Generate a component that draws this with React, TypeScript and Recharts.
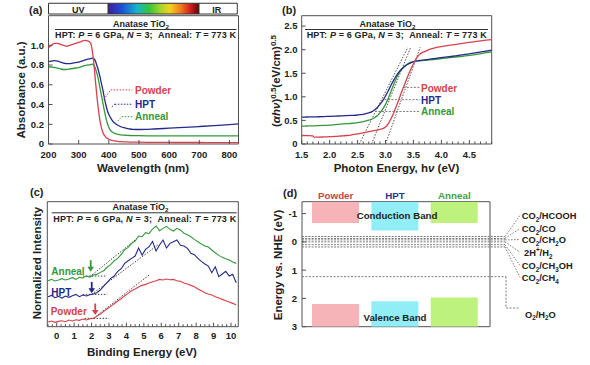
import React from 'react'
import {
  ComposedChart,
  Line,
  Bar,
  Cell,
  XAxis,
  YAxis,
  ReferenceArea,
  ReferenceLine,
  ReferenceDot,
} from 'recharts'

const FONT = '"Liberation Sans", Arial, Helvetica, sans-serif'
const INK = '#222222'
const FRAME = '#505050'
const GUIDE = '#7a7a7a'
const RED = '#d7414c'
const BLUE = '#252a88'
const GREEN = '#35983c'

// (a) absorbance
const wavelengths = [200, 210, 220, 230, 240, 250, 260, 270, 280, 290, 300, 310, 320, 330, 340, 345, 350, 355, 360, 365, 370, 375, 380, 385, 390, 395, 400, 405, 410, 420, 430, 440, 450, 460, 470, 480, 500, 550, 600, 650, 700, 750, 800, 830]
const absPowder = [0.975, 1.0, 1.02, 1.02, 1.01, 1.0, 0.99, 1.0, 1.01, 1.02, 1.03, 1.04, 1.05, 1.045, 1.02, 0.95, 0.83, 0.66, 0.5, 0.36, 0.25, 0.17, 0.12, 0.09, 0.07, 0.057, 0.048, 0.042, 0.037, 0.031, 0.027, 0.024, 0.022, 0.021, 0.02, 0.019, 0.018, 0.017, 0.016, 0.015, 0.015, 0.014, 0.014, 0.014]
const absHpt = [0.835, 0.84, 0.845, 0.84, 0.83, 0.82, 0.815, 0.815, 0.82, 0.825, 0.83, 0.84, 0.85, 0.86, 0.865, 0.87, 0.865, 0.845, 0.8, 0.75, 0.69, 0.62, 0.55, 0.47, 0.4, 0.34, 0.3, 0.27, 0.245, 0.21, 0.19, 0.175, 0.165, 0.158, 0.152, 0.149, 0.147, 0.152, 0.16, 0.168, 0.177, 0.186, 0.196, 0.203]
const absAnneal = [0.78, 0.78, 0.775, 0.77, 0.76, 0.755, 0.755, 0.76, 0.765, 0.77, 0.775, 0.785, 0.795, 0.8, 0.805, 0.81, 0.8, 0.77, 0.72, 0.66, 0.58, 0.5, 0.42, 0.34, 0.27, 0.21, 0.17, 0.14, 0.124, 0.107, 0.098, 0.093, 0.09, 0.088, 0.086, 0.085, 0.084, 0.083, 0.083, 0.082, 0.082, 0.082, 0.082, 0.082]
const wlTicks = [200, 300, 400, 500, 600, 700, 800]
const absTicks = [0, 0.2, 0.4, 0.6, 0.8, 1.0]

// (b) Tauc plot
const photonEnergy = [1.5, 1.6, 1.7, 1.72, 1.8, 1.9, 2.0, 2.1, 2.2, 2.3, 2.4, 2.5, 2.6, 2.7, 2.75, 2.8, 2.85, 2.9, 2.95, 3.0, 3.05, 3.1, 3.15, 3.2, 3.25, 3.3, 3.35, 3.4, 3.45, 3.5, 3.55, 3.6, 3.7, 3.8, 3.9, 4.0, 4.2, 4.4, 4.6, 4.8, 4.9]
const taucPowder = [0.18, 0.178, 0.172, 0.145, 0.145, 0.15, 0.155, 0.16, 0.17, 0.18, 0.195, 0.215, 0.235, 0.26, 0.275, 0.285, 0.295, 0.31, 0.325, 0.36, 0.43, 0.54, 0.67, 0.82, 0.98, 1.14, 1.29, 1.44, 1.58, 1.7, 1.81, 1.89, 1.96, 2.01, 2.045, 2.065, 2.1, 2.14, 2.17, 2.2, 2.215]
const taucHpt = [0.57, 0.572, 0.575, 0.575, 0.578, 0.582, 0.586, 0.59, 0.595, 0.6, 0.607, 0.615, 0.63, 0.66, 0.68, 0.72, 0.77, 0.84, 0.92, 1.02, 1.13, 1.25, 1.36, 1.46, 1.54, 1.6, 1.65, 1.69, 1.72, 1.745, 1.76, 1.77, 1.785, 1.8, 1.815, 1.83, 1.86, 1.895, 1.93, 1.97, 1.99]
const taucAnneal = [0.38, 0.382, 0.385, 0.386, 0.39, 0.395, 0.4, 0.41, 0.42, 0.43, 0.44, 0.455, 0.475, 0.505, 0.525, 0.555, 0.6, 0.66, 0.74, 0.84, 0.97, 1.12, 1.27, 1.41, 1.52, 1.6, 1.66, 1.7, 1.73, 1.745, 1.755, 1.762, 1.772, 1.785, 1.797, 1.81, 1.835, 1.865, 1.895, 1.935, 1.955]
const taucFitFrom = [3.0, 2.53, 2.75] // powder, hpt, anneal (intercept at 0)
const taucFitTo = [3.62, 3.4, 3.45] // x where fit reaches 2.05
const energyTicks = [1.5, 2.0, 2.5, 3.0, 3.5, 4.0, 4.5]
const taucTicks = [0, 0.5, 1.0, 1.5, 2.0, 2.5]

// (c) valence band XPS
const bindingEnergy = [-0.5, -0.3, -0.1, 0.1, 0.3, 0.5, 0.7, 0.9, 1.1, 1.3, 1.5, 1.7, 1.9, 2.1, 2.3, 2.5, 2.7, 2.9, 3.1, 3.3, 3.5, 3.7, 3.9, 4.1, 4.3, 4.5, 4.7, 4.9, 5.1, 5.3, 5.5, 5.7, 5.9, 6.1, 6.3, 6.5, 6.7, 6.9, 7.1, 7.3, 7.5, 7.7, 7.9, 8.1, 8.3, 8.5, 8.7, 8.9, 9.1, 9.3, 9.5, 9.7, 9.9, 10.1, 10.3]
const xpsAnneal = [1.38, 1.42, 1.37, 1.4, 1.44, 1.4, 1.43, 1.47, 1.42, 1.48, 1.46, 1.52, 1.49, 1.55, 1.57, 1.63, 1.68, 1.79, 1.86, 1.98, 2.05, 2.17, 2.31, 2.38, 2.5, 2.57, 2.72, 2.7, 2.82, 2.79, 2.93, 3.02, 2.88, 2.95, 3.01, 2.92, 2.87, 2.95, 2.9, 2.8, 2.76, 2.7, 2.62, 2.55, 2.48, 2.42, 2.39, 2.3, 2.22, 2.14, 2.08, 2.04, 2.0, 1.94, 1.9]
const xpsHpt = [0.9, 0.94, 0.87, 0.91, 0.86, 0.92, 0.88, 0.93, 0.97, 0.9, 0.95, 0.92, 0.96, 0.98, 1.02, 1.1, 1.22, 1.33, 1.45, 1.52, 1.66, 1.74, 1.9, 1.98, 2.05, 2.12, 2.36, 2.15, 2.32, 2.4, 2.56, 2.27, 2.45, 2.6, 2.36, 2.5, 2.55, 2.6, 2.44, 2.42, 2.35, 2.2, 2.16, 2.05, 1.96, 1.88, 1.82, 1.62, 1.8, 1.5, 1.58, 1.66, 1.52, 1.57, 1.32]
const xpsPowder = [0.14, 0.17, 0.13, 0.16, 0.18, 0.15, 0.2, 0.17, 0.21, 0.19, 0.23, 0.2, 0.24, 0.25, 0.31, 0.38, 0.46, 0.54, 0.61, 0.69, 0.77, 0.84, 0.93, 1.0, 1.08, 1.13, 1.19, 1.24, 1.27, 1.31, 1.35, 1.38, 1.42, 1.4, 1.43, 1.41, 1.42, 1.38, 1.36, 1.31, 1.28, 1.24, 1.2, 1.13, 1.08, 1.02, 0.98, 0.95, 0.9, 0.86, 0.82, 0.78, 0.74, 0.7, 0.66]
const vbOnset = [2.21, 2.01, 1.95] // powder, hpt, anneal
const vbOnsetLevel = [0.35, 1.0, 1.65]
const beTicks = [0, 1, 2, 3, 4, 5, 6, 7, 8, 9, 10]

// (d) band structure vs NHE
const samples = ['Powder', 'HPT', 'Anneal']
const cbMinimum = [-0.67, -0.4, -0.67]
const vbMaximum = [2.2, 2.1, 1.97]
const redoxCouples = ['CO2/HCOOH', 'CO2/CO', 'CO2/CH2O', '2H+/H2', 'CO2/CH3OH', 'CO2/CH4']
const redoxPotentials = [-0.19, -0.12, -0.07, 0, 0.1, 0.18]
const oxygenPotential = 1.23
const nheTicks = [-1, 0, 1, 2, 3]
const NHE_TOP = -1.42
const NHE_BOTTOM = 3
const SLOT_MIN = -0.568
const SLOT_MAX = 2.6

const sampleColors = ['#c4453f', '#30358f', '#3e9f3e']
const bandFills = ['#f6b3b8', '#92eef6', '#bdf27c']

const steps = (from: number, to: number, step: number) => {
  const out: number[] = []
  for (let v = from; v <= to + 1e-9; v += step) out.push(Math.round(v * 1000) / 1000)
  return out
}

const absRows = wavelengths.map((w, i) => ({ w, powder: absPowder[i], hpt: absHpt[i], anneal: absAnneal[i] }))
const taucRows = photonEnergy.map((e, i) => ({ e, powder: taucPowder[i], hpt: taucHpt[i], anneal: taucAnneal[i] }))
const xpsRows = bindingEnergy.map((e, i) => ({ e, powder: xpsPowder[i], hpt: xpsHpt[i], anneal: xpsAnneal[i] }))
const bandRows = samples.map((name, i) => ({ slot: i, name, cb: [NHE_TOP, cbMinimum[i]], vb: [vbMaximum[i], NHE_BOTTOM] }))

const tickText = { fontFamily: FONT, fontWeight: 700, fontSize: 9.5, fill: INK }
const near = (list: number[], v: number) => list.some((m) => Math.abs(m - v) < 1e-6)

const bottomTick = (majors: number[], fmt: (v: number) => string, dy: number) => (p: any) => {
  const v = p.payload.value
  const major = near(majors, v)
  return (
    <g>
      <line x1={p.x} x2={p.x} y1={p.y} y2={p.y - (major ? 4 : 2.5)} stroke={FRAME} strokeWidth={1} />
      {major ? (
        <text x={p.x} y={p.y + dy} textAnchor="middle" {...tickText}>
          {fmt(v)}
        </text>
      ) : null}
    </g>
  )
}

const leftTick = (fmt: (v: number) => string, dx: number) => (p: any) => (
  <g>
    <line x1={p.x} x2={p.x + 4} y1={p.y} y2={p.y} stroke={FRAME} strokeWidth={1} />
    <text x={p.x - dx} y={p.y + 3.4} textAnchor="end" {...tickText}>
      {fmt(p.payload.value)}
    </text>
  </g>
)

const oneDecimal = (v: number) => (v === 0 ? '0' : v.toFixed(1))

const axisBase = { tickSize: 0, tickMargin: 0, tickLine: false, axisLine: false, interval: 0 as const }

function PanelA() {
  const leaders = [
    { c: RED, pts: [[383, 0.45], [406, 0.548], [478, 0.548]] },
    { c: BLUE, pts: [[410, 0.376], [420, 0.403], [478, 0.403]] },
    { c: GREEN, pts: [[430, 0.234], [443, 0.277], [478, 0.277]] },
  ]
  return (
    <ComposedChart width={250} height={180} data={absRows} margin={{ top: 15.7, right: 11.5, bottom: 16, left: 18.5 }}>
      <defs>
        <linearGradient id="visibleBand" x1="0" y1="0" x2="1" y2="0">
          <stop offset="0%" stopColor="#3f1c9e" />
          <stop offset="15%" stopColor="#1d4fd6" />
          <stop offset="32%" stopColor="#17b5c9" />
          <stop offset="45%" stopColor="#35c43c" />
          <stop offset="58%" stopColor="#a9d42a" />
          <stop offset="68%" stopColor="#f2d21e" />
          <stop offset="80%" stopColor="#f07a1e" />
          <stop offset="90%" stopColor="#d42020" />
          <stop offset="100%" stopColor="#5a0606" />
        </linearGradient>
      </defs>
      <XAxis dataKey="w" type="number" domain={[200, 830]} allowDataOverflow ticks={wlTicks} height={20} {...axisBase} tick={bottomTick(wlTicks, String, 13.8)} />
      <YAxis type="number" domain={[0, 1.3]} allowDataOverflow ticks={absTicks} width={30} {...axisBase} tick={leftTick(oneDecimal, 4.5)} />
      <ReferenceArea x1={200} x2={398} y1={1.317} y2={1.426} ifOverflow="visible" fill="#ffffff" fillOpacity={1} stroke="#333" />
      <ReferenceArea x1={398} x2={699} y1={1.317} y2={1.426} ifOverflow="visible" fill="url(#visibleBand)" fillOpacity={1} stroke="#333" />
      <ReferenceArea x1={699} x2={826} y1={1.317} y2={1.426} ifOverflow="visible" fill="#ffffff" fillOpacity={1} stroke="#333" />
      <Line dataKey="hpt" type="monotone" stroke={BLUE} strokeWidth={1.3} dot={false} isAnimationActive={false} />
      <Line dataKey="anneal" type="monotone" stroke={GREEN} strokeWidth={1.3} dot={false} isAnimationActive={false} />
      <Line dataKey="powder" type="monotone" stroke={RED} strokeWidth={1.3} dot={false} isAnimationActive={false} />
      {leaders.map((l) =>
        l.pts.slice(1).map((p, i) => (
          <ReferenceLine
            key={`${l.c}-${i}`}
            segment={[{ x: l.pts[i][0], y: l.pts[i][1] }, { x: p[0], y: p[1] }]}
            stroke={l.c}
            strokeDasharray="1.5 1.5"
            ifOverflow="visible"
          />
        ))
      )}
      <ReferenceArea x1={200} x2={830} y1={0} y2={1.3} fill="none" stroke={FRAME} strokeWidth={1} />
    </ComposedChart>
  )
}

function PanelB() {
  const minor = steps(1.5, 4.9, 0.1)
  const leaders = [
    [3.32, 1.2],
    [2.98, 0.94],
    [2.81, 0.69],
  ]
  return (
    <ComposedChart width={250} height={180} data={taucRows} margin={{ top: 15.7, right: 8.3, bottom: 16, left: 21.7 }}>
      <XAxis dataKey="e" type="number" domain={[1.5, 4.9]} allowDataOverflow ticks={minor} height={20} {...axisBase} tick={bottomTick(energyTicks, (v) => v.toFixed(1), 13.5)} />
      <YAxis type="number" domain={[0, 2.72]} allowDataOverflow ticks={taucTicks} width={30} {...axisBase} tick={leftTick(oneDecimal, 4.2)} />
      {taucFitFrom.map((x0, i) => (
        <ReferenceLine key={`fit${i}`} segment={[{ x: x0, y: 0 }, { x: taucFitTo[i], y: 2.05 }]} stroke="#555" strokeDasharray="1.5 1.5" ifOverflow="visible" />
      ))}
      <Line dataKey="anneal" type="monotone" stroke={GREEN} strokeWidth={1.3} dot={false} isAnimationActive={false} />
      <Line dataKey="hpt" type="monotone" stroke={BLUE} strokeWidth={1.3} dot={false} isAnimationActive={false} />
      <Line dataKey="powder" type="monotone" stroke={RED} strokeWidth={1.3} dot={false} isAnimationActive={false} />
      {leaders.map(([x, y], i) => (
        <ReferenceLine key={`ld${i}`} segment={[{ x, y }, { x: 3.62, y }]} stroke={GUIDE} strokeDasharray="2 1.5" ifOverflow="visible" />
      ))}
      <ReferenceArea x1={1.5} x2={4.9} y1={0} y2={2.72} fill="none" stroke={FRAME} strokeWidth={1} />
    </ComposedChart>
  )
}

const arrowShape = (color: string) => (p: any) => {
  const { cx, cy } = p
  return (
    <g>
      <line x1={cx} x2={cx} y1={cy - 11.5} y2={cy - 4} stroke={color} strokeWidth={1.8} />
      <polygon points={`${cx - 3.3},${cy - 5} ${cx + 3.3},${cy - 5} ${cx},${cy}`} fill={color} />
    </g>
  )
}

function PanelC() {
  const minor = steps(-0.5, 10.25, 0.25)
  const colors = [RED, BLUE, GREEN]
  const baselines = [
    [1.6, 3.0, 0.25],
    [1.5, 2.9, 0.97],
    [1.5, 2.8, 1.52],
  ]
  const slopes = [
    [2.1, 0.25, 5.3, 1.55],
    [2.0, 0.97, 5.8, 2.45],
    [1.9, 1.5, 4.5, 2.6],
  ]
  return (
    <ComposedChart width={250} height={185} data={xpsRows} margin={{ top: 21.7, right: 11.7, bottom: 18.3, left: 47.3 }}>
      <XAxis dataKey="e" type="number" domain={[-0.54, 10.42]} allowDataOverflow ticks={minor} height={20} {...axisBase} tick={bottomTick(beTicks, String, 12.6)} />
      <YAxis type="number" domain={[0, 3.75]} allowDataOverflow hide />
      {baselines.map(([a, b, y], i) => (
        <ReferenceLine key={`bl${i}`} segment={[{ x: a, y }, { x: b, y }]} stroke="#444" strokeDasharray="1.5 1.5" />
      ))}
      {slopes.map(([a, ya, b, yb], i) => (
        <ReferenceLine key={`sl${i}`} segment={[{ x: a, y: ya }, { x: b, y: yb }]} stroke="#444" strokeDasharray="1.5 1.5" />
      ))}
      <Line dataKey="anneal" type="linear" stroke={GREEN} strokeWidth={1.1} dot={false} isAnimationActive={false} />
      <Line dataKey="hpt" type="linear" stroke={BLUE} strokeWidth={1.1} dot={false} isAnimationActive={false} />
      <Line dataKey="powder" type="linear" stroke={RED} strokeWidth={1.1} dot={false} isAnimationActive={false} />
      {vbOnset.map((x, i) => (
        <ReferenceDot key={`ar${i}`} x={x} y={vbOnsetLevel[i]} r={0} shape={arrowShape(colors[i])} />
      ))}
      <ReferenceArea x1={-0.54} x2={10.42} y1={0} y2={3.75} fill="none" stroke={FRAME} strokeWidth={1} />
    </ComposedChart>
  )
}

function PanelD() {
  const labelLevels = [-0.94, -0.47, -0.08, 0.37, 0.84, 1.26]
  const fanX = 2.853
  const labelX = 3.106
  const o2X = 2.87
  return (
    <ComposedChart width={340} height={185} data={bandRows} barGap={-47} margin={{ top: 6.7, right: 100, bottom: 38.3, left: 22 }}>
      <XAxis
        dataKey="slot"
        type="number"
        orientation="top"
        domain={[SLOT_MIN, SLOT_MAX]}
        allowDataOverflow
        ticks={[0, 1, 2]}
        height={15}
        {...axisBase}
        tick={(p: any) => (
          <text x={p.x} y={p.y - 2.5} textAnchor="middle" {...tickText} fontSize={9.8} fill={sampleColors[p.payload.value]}>
            {samples[p.payload.value]}
          </text>
        )}
      />
      <YAxis type="number" reversed domain={[NHE_TOP, NHE_BOTTOM]} allowDataOverflow ticks={nheTicks} width={30} {...axisBase} tick={leftTick(String, 5)} />
      <Bar dataKey="cb" barSize={47} isAnimationActive={false}>
        {bandRows.map((r, i) => (
          <Cell key={r.name} fill={bandFills[i]} />
        ))}
      </Bar>
      <Bar dataKey="vb" barSize={47} isAnimationActive={false}>
        {bandRows.map((r, i) => (
          <Cell key={r.name} fill={bandFills[i]} />
        ))}
      </Bar>
      {redoxPotentials.map((v, i) => (
        <ReferenceLine key={`rx${i}`} segment={[{ x: SLOT_MIN, y: v }, { x: fanX, y: v }]} stroke={GUIDE} strokeDasharray="2 1.2" ifOverflow="visible" />
      ))}
      {redoxPotentials.map((v, i) => (
        <ReferenceLine key={`fan${i}`} segment={[{ x: fanX, y: v }, { x: labelX, y: labelLevels[i] }]} stroke={GUIDE} strokeDasharray="1.5 1.5" ifOverflow="visible" />
      ))}
      <ReferenceLine segment={[{ x: SLOT_MIN, y: oxygenPotential }, { x: o2X, y: oxygenPotential }]} stroke={GUIDE} strokeDasharray="2 1.5" ifOverflow="visible" />
      <ReferenceLine segment={[{ x: o2X, y: oxygenPotential }, { x: o2X, y: 2.34 }]} stroke={GUIDE} strokeDasharray="2 1.5" ifOverflow="visible" />
      <ReferenceLine segment={[{ x: o2X, y: 2.34 }, { x: labelX, y: 2.34 }]} stroke={GUIDE} strokeDasharray="2 1.5" ifOverflow="visible" />
      <ReferenceArea x1={SLOT_MIN} x2={SLOT_MAX} y1={NHE_TOP} y2={NHE_BOTTOM} fill="none" stroke={FRAME} strokeWidth={1} />
    </ComposedChart>
  )
}

function Formula({ text, size }: { text: string; size: number }) {
  let shift = 0
  return (
    <>
      {text.split('').map((ch, i) => {
        const prev = text[i - 1]
        let target = 0
        if (/\d/.test(ch) && prev && /[A-Za-z]/.test(prev)) target = 2.6
        else if (ch === '+') target = -3.6
        const dy = target - shift
        shift = target
        return (
          <tspan key={i} dy={dy || undefined} fontSize={target ? size * 0.68 : size}>
            {ch}
          </tspan>
        )
      })}
    </>
  )
}

function Title({ cx, y }: { cx: number; y: number }) {
  return (
    <text x={cx} y={y} textAnchor="middle" fontSize={9}>
      Anatase TiO<tspan dy={2.2} fontSize={6.2}>2</tspan>
    </text>
  )
}

function Conditions({ x, y, w }: { x: number; y: number; w: number }) {
  return (
    <text x={x} y={y} fontSize={9} textLength={w} lengthAdjust="spacing">
      {'HPT: '}
      <tspan fontStyle="italic">P</tspan>
      {' = 6 GPa, '}
      <tspan fontStyle="italic">N</tspan>
      {' = 3;\u00a0\u00a0Anneal: '}
      <tspan fontStyle="italic">T</tspan>
      {' = 773 K'}
    </text>
  )
}

function Overlay() {
  const redoxY = [219, 232.3, 243.3, 256, 269.3, 281]
  return (
    <svg width={590} height={365} style={{ position: 'absolute', left: 0, top: 0, pointerEvents: 'none' }}>
      <g fontFamily={FONT} fontWeight={700} fill={INK}>
        <text x={29} y={14} fontSize={11}>(a)</text>
        <text x={282} y={14} fontSize={11}>(b)</text>
        <text x={30} y={196} fontSize={11}>(c)</text>
        <text x={283} y={197} fontSize={11}>(d)</text>

        <text x={78.3} y={13} fontSize={9} textAnchor="middle">UV</text>
        <text x={216.7} y={13} fontSize={9} textAnchor="middle">IR</text>

        <Title cx={141} y={27} />
        <line x1={55} x2={236.5} y1={29.5} y2={29.5} stroke="#333" />
        <Conditions x={55} y={38} w={181} />
        <Title cx={387.5} y={27} />
        <line x1={305} x2={488} y1={29.5} y2={29.5} stroke="#333" />
        <Conditions x={306.7} y={38.3} w={180} />
        <Title cx={140.5} y={210} />
        <line x1={51.7} x2={236.7} y1={212.8} y2={212.8} stroke="#333" />
        <Conditions x={53.3} y={222.3} w={183} />

        <text x={143} y={172} fontSize={11.5} textAnchor="middle">Wavelength (nm)</text>
        <text transform="translate(25,90) rotate(-90)" fontSize={11.5} textAnchor="middle">Absorbance (a.u.)</text>
        <text x={396.5} y={172} fontSize={11.5} textAnchor="middle">
          Photon Energy, h<tspan fontStyle="italic">ν</tspan> (eV)
        </text>
        <text transform="translate(280,81) rotate(-90)" fontSize={11.5} textAnchor="middle">
          (<tspan fontStyle="italic">αhν</tspan>)<tspan dy={-4.5} fontSize={8}>0.5</tspan>
          <tspan dy={4.5}>(eV/cm)</tspan>
          <tspan dy={-4.5} fontSize={8}>0.5</tspan>
        </text>
        <text x={142} y={355.5} fontSize={11.5} textAnchor="middle">Binding Energy (eV)</text>
        <text transform="translate(41,263) rotate(-90)" fontSize={11.5} textAnchor="middle">Normalized Intensity</text>
        <text transform="translate(282,265) rotate(-90)" fontSize={11.5} textAnchor="middle">Energy vs. NHE (eV)</text>

        <text x={135} y={93.5} fontSize={10} fill={RED}>Powder</text>
        <text x={135} y={107.8} fontSize={10} fill={BLUE}>HPT</text>
        <text x={135} y={120.2} fontSize={10} fill={GREEN}>Anneal</text>

        <text x={421} y={92} fontSize={10} fill={RED}>Powder</text>
        <text x={421} y={103.7} fontSize={10} fill={BLUE}>HPT</text>
        <text x={421} y={115.3} fontSize={10} fill={GREEN}>Anneal</text>

        <text x={51.3} y={275.2} fontSize={10} fill={GREEN}>Anneal</text>
        <text x={51.3} y={295.8} fontSize={10} fill={BLUE}>HPT</text>
        <text x={50.7} y={315.2} fontSize={10} fill={RED}>Powder</text>

        <text x={397} y={219} fontSize={9.7} textAnchor="middle">Conduction Band</text>
        <text x={395} y={320.5} fontSize={9.7} textAnchor="middle">Valence Band</text>

        {redoxCouples.map((c, i) => (
          <text key={c} x={c.startsWith('2H') ? 524 : 521.7} y={redoxY[i]}>
            <Formula text={c} size={9.3} />
          </text>
        ))}
        <text x={525} y={317.6}>
          <Formula text="O2/H2O" size={9.3} />
        </text>
      </g>
    </svg>
  )
}

export default function App() {
  return (
    <div style={{ position: 'absolute', left: 0, top: 0, width: 590, height: 365, background: '#fff', fontFamily: FONT }}>
      <div style={{ position: 'absolute', left: 0, top: 0 }}>
        <PanelA />
      </div>
      <div style={{ position: 'absolute', left: 250, top: 0 }}>
        <PanelB />
      </div>
      <div style={{ position: 'absolute', left: 0, top: 180 }}>
        <PanelC />
      </div>
      <div style={{ position: 'absolute', left: 250, top: 180 }}>
        <PanelD />
      </div>
      <Overlay />
    </div>
  )
}
